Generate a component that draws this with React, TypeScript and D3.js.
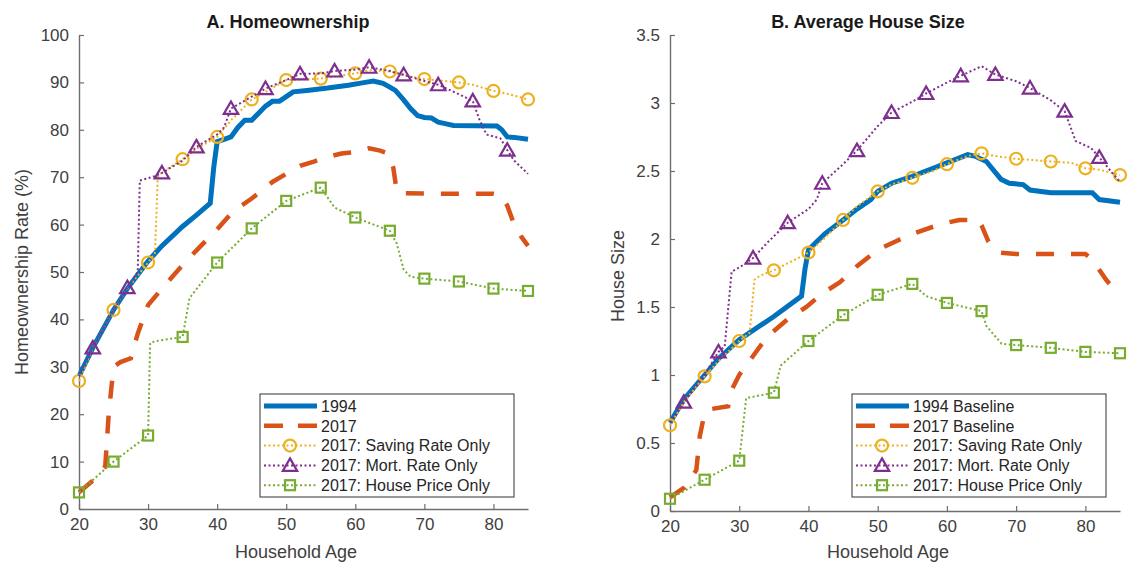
import React, { useEffect, useRef } from 'react';
import * as d3 from 'd3';

// x axis ticks (household age) and y ticks for both panels
const ageTicks = [20, 30, 40, 50, 60, 70, 80];
const homeTicks = [0, 10, 20, 30, 40, 50, 60, 70, 80, 90, 100];
const sizeTicks = [0, 0.5, 1, 1.5, 2, 2.5, 3, 3.5];

// ages where markers are drawn
const markerAges = [20, 25, 30, 35, 40, 45, 50, 55, 60, 65, 70, 75, 80, 85];
const mortMarkerAges = [22, 27, 32, 37, 42, 47, 52, 57, 62, 67, 72, 77, 82];

const legendA = ['1994', '2017', '2017: Saving Rate Only', '2017: Mort. Rate Only', '2017: House Price Only'];
const legendB = ['1994 Baseline', '2017 Baseline', '2017: Saving Rate Only', '2017: Mort. Rate Only', '2017: House Price Only'];

// A. Homeownership rate (%) by age
const home1994 = [[20, 28], [22, 34], [25, 42], [27, 46.5], [30, 52.3], [32, 55.5], [35, 59.6], [37, 62], [39, 64.5], [39.5, 72], [40, 77.5], [41, 78], [42, 78.5], [43, 80.5], [44, 82], [45, 82], [46, 83.5], [47, 85], [48, 86], [49, 86], [50, 87], [51, 88], [53, 88.3], [56, 88.8], [59, 89.4], [61, 89.9], [62.6, 90.3], [64, 89.8], [65, 89], [65.8, 88.3], [67, 86.3], [68, 84.5], [69, 83], [70, 82.6], [71, 82.5], [72, 81.6], [73, 81.3], [74.2, 80.9], [80.5, 80.8], [81.2, 80], [82, 78.5], [83, 78.4], [85, 78]];
const home2017 = [[20, 3.5], [22, 6], [23.8, 9], [24.3, 20], [25, 30], [26, 31], [27.5, 31.8], [28.5, 37], [30, 43], [32, 46.5], [35, 51.5], [37.5, 55.3], [40, 59], [42.3, 62.8], [45, 65.5], [48, 69], [50, 70.7], [52, 72.4], [54, 73.3], [56, 74.3], [58, 75], [60, 75.3], [62, 76.1], [63.6, 75.6], [64.8, 75], [65.5, 72], [66, 67], [67, 66.6], [75, 66.5], [80, 66.5], [81, 66.2], [82, 64], [83, 60], [84, 57.5], [85, 55.5]];
const homeSaving = [[20, 27], [22, 34], [25, 42], [27, 46.5], [30, 52], [31, 54], [31.4, 70], [32, 71], [35, 73.8], [37, 76], [40, 78.5], [42, 82], [45, 86.4], [47, 88], [50, 90.5], [55, 90.8], [60, 91.9], [62, 92.6], [65, 92.3], [67, 91.5], [70, 90.7], [75, 90], [77, 89.5], [80, 88.2], [82, 87.6], [85, 86.4]];
const homeMort = [[20, 28], [22, 34], [25, 42], [27, 46.7], [28.5, 50], [28.8, 69.3], [31, 70.2], [32, 70.9], [35, 73.5], [37, 76.4], [40, 79], [41, 80.5], [42, 84.5], [45, 87], [47, 88.7], [50, 90.5], [52, 91.8], [55, 91.9], [57, 92.4], [60, 92.7], [62, 93.2], [65, 92.4], [67, 91.6], [70, 90.3], [72, 89.5], [75, 87.5], [77, 86.1], [78, 82], [79, 79], [81, 78.2], [82, 75.7], [83, 73.5], [85, 70.7]];
const homePrice = [[20, 3.5], [25, 10], [30, 15.5], [30.3, 35], [31, 35.4], [35, 36.3], [36, 44.5], [40, 52], [45, 59.2], [50, 65], [55, 67.8], [57, 63.6], [60, 61.5], [65, 58.7], [66, 56], [67, 50.5], [68, 49], [70, 48.6], [75, 48], [80, 46.5], [85, 46]];

// B. Average house size by age
const size1994 = [[20, 0.65], [22, 0.82], [25, 1.0], [27, 1.12], [30, 1.26], [35, 1.43], [39, 1.58], [39.5, 1.78], [40, 1.92], [41, 1.97], [42.4, 2.04], [45, 2.14], [47, 2.22], [49, 2.29], [50, 2.35], [52, 2.41], [55, 2.46], [58, 2.52], [60, 2.56], [63, 2.62], [64, 2.61], [65.7, 2.57], [66.5, 2.52], [67.8, 2.44], [69, 2.41], [71, 2.4], [72, 2.36], [75, 2.34], [81, 2.34], [82, 2.29], [85, 2.27]];
const size2017 = [[20, 0.1], [22, 0.17], [23.8, 0.3], [24.3, 0.55], [25, 0.72], [26, 0.75], [28.4, 0.77], [29, 0.9], [30, 1.0], [32, 1.14], [34, 1.28], [37, 1.41], [39.7, 1.5], [42, 1.6], [44.5, 1.68], [47, 1.8], [50, 1.92], [52.5, 1.98], [54.6, 2.03], [58, 2.09], [60, 2.12], [61.8, 2.14], [63.3, 2.14], [64.5, 2.14], [65, 2.1], [66, 1.98], [67.6, 1.9], [70, 1.89], [75, 1.89], [80, 1.89], [81, 1.85], [82.2, 1.76], [83, 1.7], [85, 1.58]];
const sizeSaving = [[20, 0.63], [22, 0.8], [25, 0.99], [27, 1.1], [30, 1.25], [31.5, 1.31], [32.2, 1.7], [33, 1.73], [35, 1.77], [38.5, 1.86], [40, 1.9], [42, 1.99], [45, 2.14], [47, 2.24], [50, 2.35], [52, 2.4], [55, 2.45], [58, 2.5], [60, 2.55], [63, 2.61], [65, 2.63], [67, 2.61], [70, 2.59], [75, 2.57], [78, 2.56], [80, 2.52], [82, 2.51], [85, 2.47]];
const sizeMort = [[20, 0.65], [22, 0.8], [25, 1.0], [27, 1.17], [27.9, 1.21], [28.9, 1.76], [30, 1.79], [32, 1.86], [34, 1.97], [35, 2.02], [37, 2.12], [40, 2.22], [41.2, 2.29], [42, 2.41], [45, 2.55], [47, 2.65], [50, 2.83], [52, 2.93], [55, 3.01], [57, 3.07], [60, 3.15], [62, 3.2], [65, 3.27], [67, 3.21], [70, 3.16], [72, 3.11], [75, 3.02], [77, 2.94], [78.6, 2.72], [80.8, 2.67], [82, 2.6], [85, 2.42]];
const sizePrice = [[20, 0.09], [25, 0.23], [30, 0.37], [30.5, 0.6], [31, 0.83], [35, 0.87], [36, 1.07], [40, 1.25], [45, 1.44], [50, 1.59], [55, 1.67], [57, 1.58], [60, 1.53], [65, 1.47], [65.7, 1.36], [67.9, 1.23], [70, 1.22], [75, 1.2], [80, 1.17], [85, 1.16]];

const FONT = '"Liberation Sans", Arial, Helvetica, sans-serif';

// line styles, same order for both panels
const styles = [
  { color: '#0072BD', width: 5, dash: 'none', marker: null, marks: null },
  { color: '#D95319', width: 4.5, dash: '18 17', marker: null, marks: null },
  { color: '#EDB120', width: 2, dash: '2 2.5', marker: 'circle', marks: markerAges },
  { color: '#7E2F8E', width: 2, dash: '2 2.5', marker: 'triangle', marks: mortMarkerAges },
  { color: '#77AC30', width: 2, dash: '2 2.5', marker: 'square', marks: markerAges },
];

function drawMarker(sel, type, color) {
  if (type === 'circle') {
    sel.append('circle').attr('r', 6).attr('fill', 'none').attr('stroke', color).attr('stroke-width', 2.2);
  } else if (type === 'triangle') {
    sel.append('path').attr('d', 'M0,-7L7.2,5.5L-7.2,5.5Z').attr('fill', 'none').attr('stroke', color).attr('stroke-width', 2.2);
  } else if (type === 'square') {
    sel.append('rect').attr('x', -5).attr('y', -5).attr('width', 10).attr('height', 10)
      .attr('fill', 'none').attr('stroke', color).attr('stroke-width', 2.2);
  }
}

function Panel(props) {
  const ref = useRef(null);
  useEffect(() => {
    const g = d3.select(ref.current);
    g.selectAll('*').remove();
    const x = d3.scaleLinear().domain([20, 85]).range([props.x0, props.x1]);
    const y = d3.scaleLinear().domain(props.yDomain).range([props.yBottom, props.yTop]);

    // axes (ticks inside, no box)
    const xa = g.append('g').attr('transform', `translate(0,${props.yBottom})`)
      .call(d3.axisBottom(x).tickValues(ageTicks).tickSizeInner(-5).tickSizeOuter(0).tickPadding(9));
    const ya = g.append('g').attr('transform', `translate(${props.x0},0)`)
      .call(d3.axisLeft(y).tickValues(props.yTicks).tickFormat(d => String(d)).tickSizeInner(-5).tickSizeOuter(0).tickPadding(10));
    [xa, ya].forEach(a => {
      a.attr('font-family', FONT).attr('font-size', 17);
      a.selectAll('.domain').attr('stroke', '#6e6e6e').attr('stroke-width', 1.4);
      a.selectAll('.tick line').attr('stroke', '#6e6e6e').attr('stroke-width', 1.2);
      a.selectAll('.tick text').attr('fill', '#404040');
    });

    const line = d3.line().x(d => x(d[0])).y(d => y(d[1]));
    props.series.forEach((data, i) => {
      const st = styles[i];
      g.append('path').attr('d', line(data))
        .attr('fill', 'none')
        .attr('stroke', st.color)
        .attr('stroke-width', st.width)
        .attr('stroke-dasharray', st.dash);
      if (st.marker) {
        const pts = data.filter(d => st.marks.includes(d[0]));
        pts.forEach(d => {
          const m = g.append('g').attr('transform', `translate(${x(d[0])},${y(d[1])})`);
          drawMarker(m, st.marker, st.color);
        });
      }
    });

    // legend
    const lx = props.x1 - 268, ly = 394;
    const lg = g.append('g').attr('transform', `translate(${lx},${ly})`);
    lg.append('rect').attr('width', 254).attr('height', 103).attr('fill', 'white')
      .attr('stroke', '#333').attr('stroke-width', 1);
    props.legend.forEach((label, i) => {
      const st = styles[i];
      const yy = 12 + i * 19.8;
      lg.append('line').attr('x1', 4).attr('x2', 57).attr('y1', yy).attr('y2', yy)
        .attr('stroke', st.color).attr('stroke-width', st.width)
        .attr('stroke-dasharray', i === 1 ? '19 15' : st.dash);
      if (st.marker) {
        const m = lg.append('g').attr('transform', `translate(30,${yy})`);
        drawMarker(m, st.marker, st.color);
      }
      lg.append('text').attr('x', 61).attr('y', yy).attr('dy', '0.36em')
        .attr('font-family', FONT).attr('font-size', 16).attr('fill', '#262626').text(label);
    });

    // title and labels
    g.append('text').attr('x', props.titleX).attr('y', 28).attr('text-anchor', 'middle')
      .attr('font-family', FONT).attr('font-size', 18).attr('font-weight', 'bold').attr('fill', '#1a1a1a')
      .text(props.title);
    g.append('text').attr('x', props.xlabelX).attr('y', 558).attr('text-anchor', 'middle')
      .attr('font-family', FONT).attr('font-size', 18).attr('fill', '#404040').text('Household Age');
    g.append('text').attr('transform', `translate(${props.ylabelX},${props.ylabelY}) rotate(-90)`)
      .attr('text-anchor', 'middle').attr('font-family', FONT).attr('font-size', 18).attr('fill', '#404040')
      .text(props.ylabel);
  }, []);
  return <g ref={ref} />;
}

export default function App() {
  return (
    <svg width={1132} height={563} style={{ position: 'absolute', left: 0, top: 0, background: 'white' }}>
      <Panel x0={79} x1={528} yBottom={509} yTop={35} yDomain={[0, 100]} yTicks={homeTicks}
        series={[home1994, home2017, homeSaving, homeMort, homePrice]} legend={legendA}
        title="A. Homeownership" titleX={288} xlabelX={296} ylabel="Homeownership Rate (%)" ylabelX={28} ylabelY={272} />
      <Panel x0={670} x1={1120} yBottom={511} yTop={35} yDomain={[0, 3.5]} yTicks={sizeTicks}
        series={[size1994, size2017, sizeSaving, sizeMort, sizePrice]} legend={legendB}
        title="B. Average House Size" titleX={868} xlabelX={888} ylabel="House Size" ylabelX={624} ylabelY={276} />
    </svg>
  );
}
